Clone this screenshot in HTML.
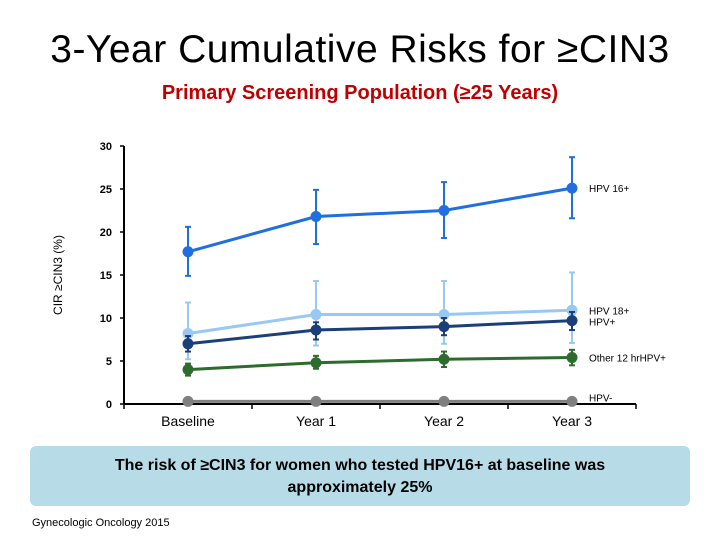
<!DOCTYPE html>
<html><head><meta charset="utf-8"><style>
body{margin:0;width:720px;height:540px;background:#fff;overflow:hidden;position:relative;font-family:"Liberation Sans",sans-serif}
.t{position:absolute;left:0;width:720px;text-align:center}
</style></head><body>
<div class="t" style="top:28px;font-size:39px;letter-spacing:0.5px">3-Year Cumulative Risks for ≥CIN3</div>
<div class="t" style="top:82px;font-size:20px;font-weight:bold;color:#c00000">Primary Screening Population (≥25 Years)</div>
<svg id="c" width="720" height="540" style="position:absolute;left:0;top:0"></svg>
<div style="position:absolute;left:30px;top:446px;width:660px;height:60px;background:#b7dce8;border-radius:6px;text-align:center;font-size:16px;font-weight:bold;line-height:22px;padding-top:9px;box-sizing:border-box">The risk of ≥CIN3 for women who tested HPV16+ at baseline was<br>approximately 25%</div>
<div style="position:absolute;left:32px;top:517px;font-size:11px">Gynecologic Oncology 2015</div>
<script>
const categories=["Baseline","Year 1","Year 2","Year 3"];
const yTicks=[0,5,10,15,20,25,30];
const seriesNames=["HPV 16+","HPV 18+","HPV+","Other 12 hrHPV+","HPV-"];
const hpv16=[17.7,21.8,22.5,25.1],hpv16Lo=[14.9,18.6,19.3,21.6],hpv16Hi=[20.6,24.9,25.8,28.7];
const hpv18=[8.2,10.4,10.4,10.9],hpv18Lo=[5.2,6.8,7.0,7.1],hpv18Hi=[11.8,14.3,14.3,15.3];
const hpvPos=[7.0,8.6,9.0,9.7],hpvPosLo=[6.1,7.5,8.0,8.6],hpvPosHi=[7.9,9.5,10.0,10.7];
const other12=[4.0,4.8,5.2,5.4],other12Lo=[3.3,4.1,4.3,4.5],other12Hi=[4.7,5.6,6.1,6.3];
const hpvNeg=[0.3,0.3,0.3,0.3];
const svg=document.getElementById('c'),NS='http://www.w3.org/2000/svg';
const x0=124,x1=636,y0=404,yTop=146;
const X=i=>x0+(x1-x0)/categories.length*(i+0.5);
const Y=v=>y0-(y0-yTop)*v/30;
function el(t,a,p){const e=document.createElementNS(NS,t);for(const k in a)e.setAttribute(k,a[k]);(p||svg).appendChild(e);return e;}
let e=el('line',{x1:x0,y1:yTop,x2:x0,y2:y0,stroke:'#000','stroke-width':2});

e=el('line',{x1:x0,y1:y0,x2:x1,y2:y0,stroke:'#000','stroke-width':2});

yTicks.forEach(v=>{el('line',{x1:x0-4,x2:x0,y1:Y(v),y2:Y(v),stroke:'#000','stroke-width':1.5});
 const t=el('text',{x:x0-12,y:Y(v)+4,'text-anchor':'end','font-size':11,'font-weight':'bold','font-family':'Liberation Sans'});t.textContent=v;
 });
for(let i=0;i<=categories.length;i++){const xx=x0+(x1-x0)/categories.length*i;el('line',{x1:xx,x2:xx,y1:y0,y2:y0+5,stroke:'#000','stroke-width':1.5});}
categories.forEach((c,i)=>{const t=el('text',{x:X(i),y:y0+22,'text-anchor':'middle','font-size':14,'font-family':'Liberation Sans'});t.textContent=c;
 });
const yl=el('text',{transform:'translate(62,275) rotate(-90)','text-anchor':'middle','font-size':12,'font-family':'Liberation Sans'});yl.textContent='CIR ≥CIN3 (%)';

const series=[[hpv18,hpv18Lo,hpv18Hi,'#99c8f5','HPV 18+',0],[other12,other12Lo,other12Hi,'#2e6b2e','Other 12 hrHPV+',0],[hpvPos,hpvPosLo,hpvPosHi,'#1a3f7a','HPV+',1],[hpv16,hpv16Lo,hpv16Hi,'#1f6fe0','HPV 16+',0],[hpvNeg,null,null,'#808080','HPV-',-4]];
series.forEach(([v,lo,hi,col,name,dy])=>{
 const g=el('g',{});
 if(lo)v.forEach((_,i)=>{el('line',{x1:X(i),x2:X(i),y1:Y(lo[i]),y2:Y(hi[i]),stroke:col,'stroke-width':2},g);
  [lo[i],hi[i]].forEach(b=>el('line',{x1:X(i)-3,x2:X(i)+3,y1:Y(b),y2:Y(b),stroke:col,'stroke-width':2},g));});
 el('polyline',{points:v.map((d,i)=>X(i)+','+Y(d)).join(' '),fill:'none',stroke:col,'stroke-width':3},g);
 v.forEach((d,i)=>{const p=el('circle',{cx:X(i),cy:Y(d),r:5.5,fill:col},g);});
 const t=el('text',{x:589,y:Y(v[3])+4+dy,'font-size':10,'font-family':'Liberation Sans'},g);t.textContent=name;
 
});
</script>
</body></html>
